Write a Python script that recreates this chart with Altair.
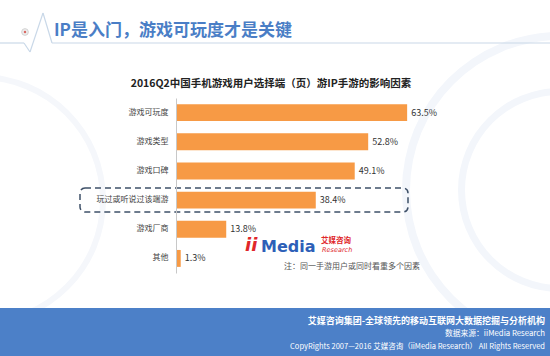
import altair as alt
import pandas as pd

categories = ["游戏可玩度", "游戏类型", "游戏口碑", "玩过或听说过该端游", "游戏厂商", "其他"]
values = [63.5, 52.8, 49.1, 38.4, 13.8, 1.3]
value_labels = ["63.5%", "52.8%", "49.1%", "38.4%", "13.8%", "1.3%"]

df = pd.DataFrame({"cat": categories, "val": values, "lab": value_labels})

# plot area origin in page pixels
OX, OY = 176, 98
W, H = 364, 175


def px(x):
    return x - OX


def py(y):
    return y - OY


FONT = "Noto Sans CJK SC"

yenc = alt.Y("cat:N", sort=categories, scale=alt.Scale(paddingInner=0.42, paddingOuter=0.21),
             axis=alt.Axis(title=None, ticks=False, labelPadding=8, labelFontSize=8,
                           labelColor="#444444", labelFont=FONT, domainColor="#c8c8c8",
                           grid=False, zindex=1))
xenc = alt.X("val:Q", scale=alt.Scale(domain=[0, 100]), axis=None)

bars = alt.Chart(df).mark_bar(color="#F79A45").encode(x=xenc, y=yenc)
labels = alt.Chart(df).mark_text(align="left", dx=4, fontSize=9, color="#333333", font=FONT).encode(
    x=xenc, y=yenc, text="lab:N")

one = pd.DataFrame({"a": [0]})


def rule(x1, y1, x2, y2, color, width=1.2):
    return alt.Chart(one).mark_rule(color=color, strokeWidth=width).encode(
        x=alt.value(px(x1)), y=alt.value(py(y1)), x2=alt.value(px(x2)), y2=alt.value(py(y2)))


def text(t, x, y, size, color, weight="normal", align="left", italic=False, font=FONT):
    kw = dict(align=align, baseline="middle", fontSize=size, color=color, fontWeight=weight, font=font)
    if italic:
        kw["fontStyle"] = "italic"
    return alt.Chart(one).mark_text(**kw).encode(
        x=alt.value(px(x)), y=alt.value(py(y)), text=alt.value(t))


def ring(cx, cy, r_in, r_out, color):
    return alt.Chart(one).mark_arc(innerRadius=r_in, outerRadius=r_out, theta=0, theta2=6.2832,
                                   color=color).encode(x=alt.value(px(cx)), y=alt.value(py(cy)))


LINE = "#c9d8e8"
layers = [
    # faint background decorations
    ring(560, 190, 150, 158, "#f3f6fb"),
    ring(560, 190, 95, 102, "#f3f6fb"),
    ring(-20, 200, 120, 126, "#f5f7fb"),
    # header line + pulse
    rule(0, 43, 24, 43, LINE),
    rule(24, 43, 30, 52, LINE),
    rule(30, 52, 43, 13, LINE),
    rule(43, 13, 52, 43, LINE),
    rule(52, 43, 550, 43, LINE),
    alt.Chart(one).mark_point(shape="circle", size=45, filled=True, color="#e8e8e8",
                              stroke="#c0c0c0", strokeWidth=1).encode(
        x=alt.value(px(25)), y=alt.value(py(32))),
    alt.Chart(one).mark_point(shape="circle", size=6, filled=True, color="#d0302a").encode(
        x=alt.value(px(25)), y=alt.value(py(32))),
    text("IP是入门，游戏可玩度才是关键", 54, 31, 17, "#4a7ec6", weight="bold"),
    # chart title
    text("2016Q2中国手机游戏用户选择端（页）游IP手游的影响因素", 271, 84, 10.5, "#222222",
         weight="bold", align="center"),
    bars,
    labels,
    # dashed highlight box
    alt.Chart(one).mark_rect(fillOpacity=0, stroke="#3e5068", strokeWidth=1.5,
                             strokeDash=[6, 4], cornerRadius=5).encode(
        x=alt.value(px(80)), x2=alt.value(px(408)), y=alt.value(py(188)), y2=alt.value(py(212))),
    # logo
    text("ii", 245, 246, 18, "#e0262a", weight="bold", italic=True, font="DejaVu Sans"),
    text("Media", 261, 247, 16, "#2d5fb8", weight="bold", font="DejaVu Sans"),
    text("艾媒咨询", 321, 241, 7.5, "#e0262a", weight="bold"),
    text("Research", 322, 250, 6.5, "#e0262a", italic=True, font="DejaVu Sans"),
    text("注：同一手游用户或同时看重多个因素", 352, 267, 8, "#555555", align="center"),
    # footer
    alt.Chart(one).mark_rect(color="#4c80c8").encode(
        x=alt.value(px(0)), x2=alt.value(px(550)), y=alt.value(py(308)), y2=alt.value(py(356))),
    text("艾媒咨询集团-全球领先的移动互联网大数据挖掘与分析机构", 545, 321, 9, "white",
         weight="bold", align="right"),
    text("数据来源：iiMedia Research", 545, 334, 7.8, "white", align="right"),
    text("CopyRights 2007—2016 艾媒咨询（iiMedia Research） All Rights Reserved", 545, 347, 7.5,
         "white", align="right"),
]

chart = alt.layer(*layers).properties(
    width=W, height=H,
    autosize=alt.AutoSizeParams(type="none"),
    padding={"left": OX, "top": OY, "right": 550 - OX - W, "bottom": 356 - OY - H},
    background="white",
).configure_view(stroke=None)

chart.save("out.html", embed_options={"renderer": "svg", "actions": False})
